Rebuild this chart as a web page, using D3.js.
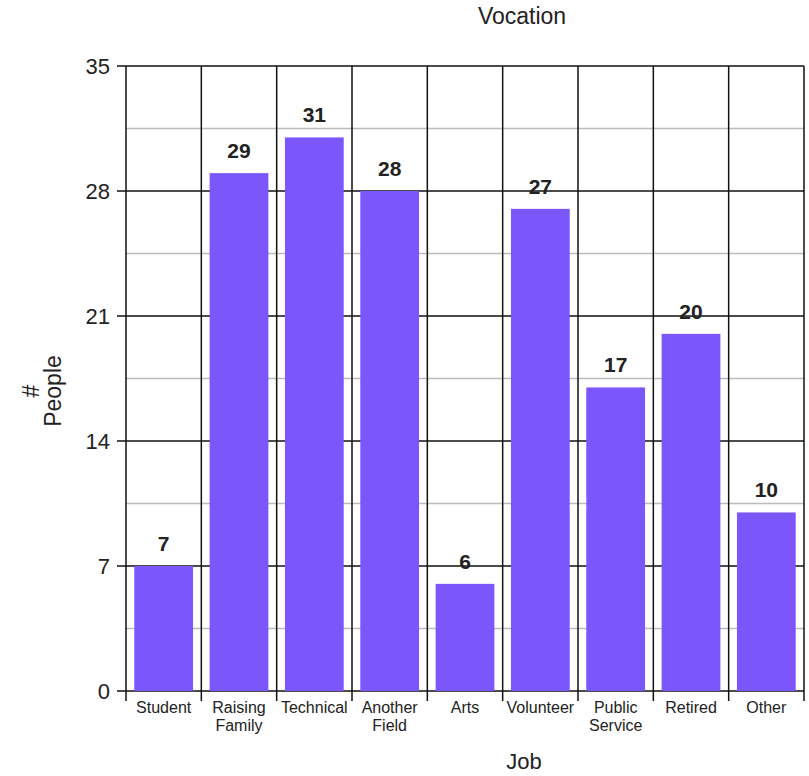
<!DOCTYPE html>
<html>
<head>
<meta charset="utf-8">
<script src="https://cdn.jsdelivr.net/npm/d3@7"></script>
<style>
  body { margin: 0; background: #fff; }
  text { font-family: "Liberation Sans", Arial, sans-serif; fill: #222; }
</style>
</head>
<body>
<svg id="chart" width="809" height="776"></svg>
<script>
// data
const jobs = ['Student', 'Raising Family', 'Technical', 'Another Field', 'Arts', 'Volunteer', 'Public Service', 'Retired', 'Other'];
const people = [7, 29, 31, 28, 6, 27, 17, 20, 10];
const yTicks = [0, 7, 14, 21, 28, 35];
const yMinor = [3.5, 10.5, 17.5, 24.5, 31.5];

const svg = d3.select('#chart');
const plotL = 126, plotR = 804, plotT = 66, plotB = 691;

const x = d3.scaleBand().domain(jobs).range([plotL, plotR]).paddingInner(0.22).paddingOuter(0.11);
const xEdge = d3.scaleLinear().domain([0, jobs.length]).range([plotL, plotR]);
const y = d3.scaleLinear().domain([0, 35]).range([plotB, plotT]);

// minor grid (grey)
svg.selectAll('.minor').data(yMinor).enter().append('line')
  .attr('x1', plotL).attr('x2', plotR)
  .attr('y1', d => y(d)).attr('y2', d => y(d))
  .style('stroke', '#bbb').style('stroke-width', 1.5);

// major grid (black)
svg.selectAll('.major').data(yTicks).enter().append('line')
  .attr('x1', plotL - 9).attr('x2', plotR)
  .attr('y1', d => y(d)).attr('y2', d => y(d))
  .style('stroke', '#111').style('stroke-width', 1.5);

// vertical lines at category borders, running past the axis as ticks
svg.selectAll('.vline').data(d3.range(jobs.length + 1)).enter().append('line')
  .attr('x1', d => xEdge(d)).attr('x2', d => xEdge(d))
  .attr('y1', plotT).attr('y2', plotB + 10)
  .style('stroke', '#111').style('stroke-width', 1.5);

// bars
svg.selectAll('.bar').data(people).enter().append('rect')
  .attr('x', (d, i) => x(jobs[i]))
  .attr('y', d => y(d))
  .attr('width', x.bandwidth())
  .attr('height', d => plotB - y(d))
  .style('fill', '#7b56fb');

// value labels
svg.selectAll('.val').data(people).enter().append('text')
  .attr('x', (d, i) => x(jobs[i]) + x.bandwidth() / 2)
  .attr('y', d => y(d) - 15)
  .attr('text-anchor', 'middle')
  .style('font-size', '21px').style('font-weight', 'bold')
  .text(d => d);

// y tick labels
svg.selectAll('.ytick').data(yTicks).enter().append('text')
  .attr('x', plotL - 16)
  .attr('y', d => y(d) + 8)
  .attr('text-anchor', 'end')
  .style('font-size', '22px')
  .text(d => d);

// x tick labels, wrapped on spaces
jobs.forEach(j => {
  const t = svg.append('text')
    .attr('x', x(j) + x.bandwidth() / 2)
    .attr('y', plotB + 22)
    .attr('text-anchor', 'middle')
    .style('font-size', '16px');
  j.split(' ').forEach((w, k) => {
    t.append('tspan').attr('x', x(j) + x.bandwidth() / 2).attr('dy', k ? 18 : 0).text(w);
  });
});

// titles
svg.append('text').attr('x', 522).attr('y', 24).attr('text-anchor', 'middle')
  .style('font-size', '23px').text('Vocation');
svg.append('text').attr('x', 524).attr('y', 769).attr('text-anchor', 'middle')
  .style('font-size', '22px').text('Job');
svg.append('text').attr('transform', 'translate(39,391) rotate(-90)').attr('text-anchor', 'middle')
  .style('font-size', '23px').text('#');
svg.append('text').attr('transform', 'translate(61,391) rotate(-90)').attr('text-anchor', 'middle')
  .style('font-size', '23px').text('People');
</script>
</body>
</html>
